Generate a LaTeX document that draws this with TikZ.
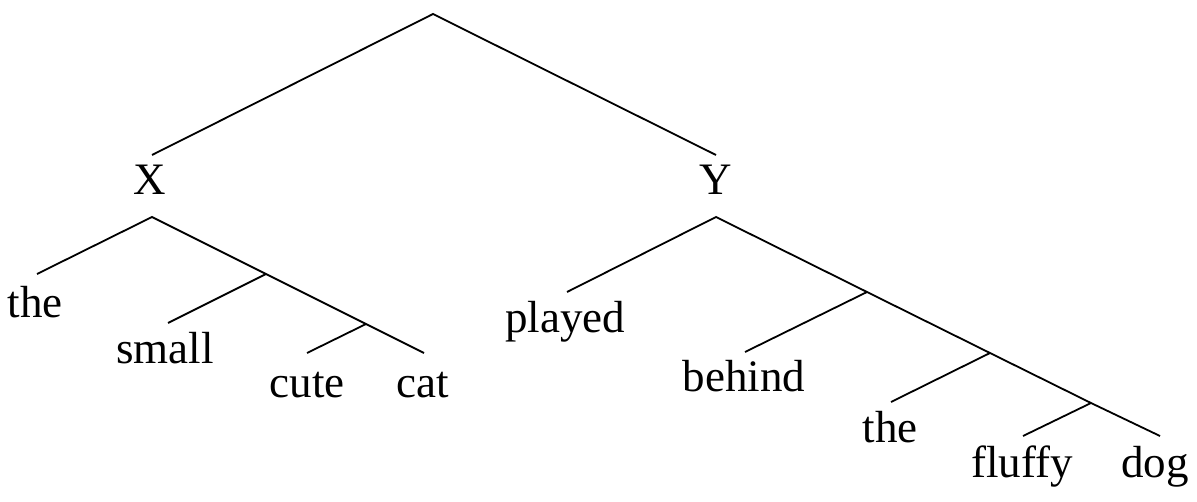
\documentclass[tikz,border=0pt]{standalone}
\usepackage{fontspec}
\setmainfont{Liberation Serif}
\begin{document}
\begin{tikzpicture}[x=0.5pt,y=-0.5pt,
  edge/.style={line width=0.9pt},
  word/.style={anchor=base, inner sep=0pt, font=\fontsize{22.5}{27}\selectfont}]
\useasboundingbox (0,0) rectangle (1197,502);
% top level
\coordinate (root) at (433,14);
\coordinate (xt) at (152,155);
\coordinate (yt) at (716,155);
\node[word] (X) at (150,195) {X};
\node[word] (Y) at (716,195) {Y};
\draw[edge] (xt) -- (root) -- (yt);
% X subtree
\coordinate (xb) at (152,217);
\coordinate (x1) at (266,274);
\coordinate (x2) at (366,324);
\coordinate (eThe) at (37,274);
\coordinate (eSmall) at (168,323);
\coordinate (eCute) at (307,353);
\coordinate (eCat) at (424,353);
\node[word] (the1) at (35,317) {the};
\node[word] (small) at (165,363) {small};
\node[word] (cute) at (307,397) {cute};
\node[word] (cat) at (423,397) {cat};
\draw[edge] (eThe) -- (xb) -- (x1) -- (x2) -- (eCat);
\draw[edge] (x1) -- (eSmall);
\draw[edge] (x2) -- (eCute);
% Y subtree
\coordinate (yb) at (716,217);
\coordinate (y1) at (867,292);
\coordinate (y2) at (990,353);
\coordinate (y3) at (1091,403);
\coordinate (ePlayed) at (567,292);
\coordinate (eBehind) at (745,352);
\coordinate (eThe2) at (891,402);
\coordinate (eFluffy) at (1023,436);
\coordinate (eDog) at (1160,436);
\node[word] (played) at (565,332) {played};
\node[word] (behind) at (744,391) {behind};
\node[word] (the2) at (890,442) {the};
\node[word] (fluffy) at (1022,477) {fluffy};
\node[word] (dog) at (1155,477) {dog};
\draw[edge] (ePlayed) -- (yb) -- (y1) -- (y2) -- (y3) -- (eDog);
\draw[edge] (y1) -- (eBehind);
\draw[edge] (y2) -- (eThe2);
\draw[edge] (y3) -- (eFluffy);
\end{tikzpicture}
\end{document}
